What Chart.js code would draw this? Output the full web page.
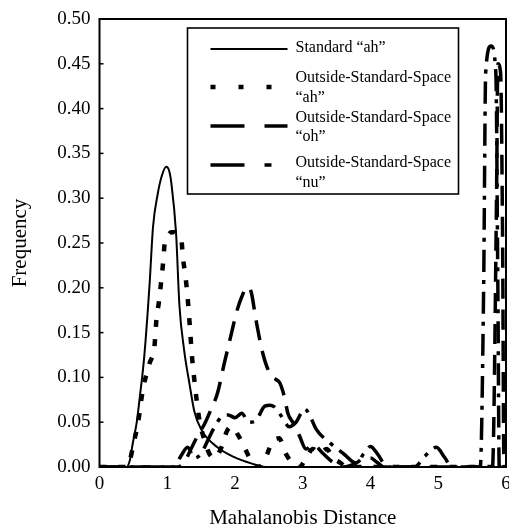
<!DOCTYPE html>
<html>
<head>
<meta charset="utf-8">
<script src="https://cdn.jsdelivr.net/npm/chart.js@4.4.1/dist/chart.umd.min.js"></script>
<style>
  html, body { margin: 0; padding: 0; background: #fff; }
  #wrap { width: 509px; height: 532px; position: relative; }
</style>
</head>
<body>
<div id="wrap"><canvas id="c" width="509" height="532"></canvas></div>
<script>
// ---- data ----
const xTicks = [0, 1, 2, 3, 4, 5, 6];
const yTicks = [0, 0.05, 0.10, 0.15, 0.20, 0.25, 0.30, 0.35, 0.40, 0.45, 0.50];
const seriesNames = ['Standard \u201cah\u201d', 'Outside-Standard-Space \u201cah\u201d', 'Outside-Standard-Space \u201coh\u201d', 'Outside-Standard-Space \u201cnu\u201d'];
const legendLines = [['Standard \u201cah\u201d'], ['Outside-Standard-Space', '\u201cah\u201d'], ['Outside-Standard-Space', '\u201coh\u201d'], ['Outside-Standard-Space', '\u201cnu\u201d']];

const stdAhX = [0, 0.40, 0.45, 0.49, 0.55, 0.59, 0.66, 0.74, 0.79, 0.86, 0.92, 0.985, 1.03, 1.06, 1.13, 1.18, 1.25, 1.33, 1.40, 1.50, 1.74, 1.99, 2.24, 2.45, 6];
const stdAhY = [0, 0, 0.008, 0.026, 0.050, 0.075, 0.123, 0.205, 0.268, 0.305, 0.325, 0.335, 0.330, 0.317, 0.261, 0.180, 0.130, 0.092, 0.062, 0.042, 0.022, 0.011, 0.004, 0, 0];

const outAhX = [0, 0.40, 0.45, 0.50, 0.57, 0.64, 0.74, 0.81, 0.84, 0.88, 0.91, 0.94, 0.96, 1.01, 1.06, 1.11, 1.16, 1.21, 1.23, 1.27, 1.30, 1.34, 1.37, 1.40, 1.43, 1.48, 1.55, 1.62, 1.70, 1.80, 1.88, 1.95, 2.05, 2.14, 2.25, 2.35, 2.45, 2.55, 2.65, 2.75, 2.85, 2.95, 3.05, 3.15, 3.25, 3.35, 3.45, 3.55, 3.65, 6];
const outAhY = [0, 0, 0.008, 0.025, 0.050, 0.086, 0.116, 0.134, 0.164, 0.186, 0.207, 0.229, 0.248, 0.258, 0.262, 0.262, 0.258, 0.253, 0.235, 0.212, 0.190, 0.150, 0.119, 0.097, 0.077, 0.050, 0.030, 0.015, 0.010, 0.022, 0.040, 0.045, 0.035, 0.022, 0.005, 0, 0.010, 0.028, 0.032, 0.015, 0.004, 0, 0.010, 0.020, 0.015, 0.020, 0.010, 0.005, 0, 0];

const outOhX = [0, 1.15, 1.25, 1.35, 1.45, 1.55, 1.65, 1.74, 1.84, 1.95, 2.02, 2.10, 2.18, 2.24, 2.31, 2.41, 2.51, 2.60, 2.66, 2.73, 2.78, 2.86, 2.95, 3.05, 3.15, 3.30, 3.45, 3.60, 3.80, 3.90, 4.00, 4.10, 4.20, 5.80, 5.86, 5.88, 5.92, 5.95, 5.97, 6];
const outOhY = [0, 0, 0.005, 0.020, 0.035, 0.048, 0.065, 0.082, 0.115, 0.150, 0.172, 0.190, 0.201, 0.195, 0.164, 0.127, 0.105, 0.098, 0.094, 0.078, 0.060, 0.049, 0.035, 0.020, 0.025, 0.015, 0.005, 0, 0.005, 0.010, 0.010, 0.005, 0, 0, 0.30, 0.45, 0.44, 0.25, 0, 0];

const outNuX = [0, 1.10, 1.20, 1.30, 1.40, 1.50, 1.60, 1.70, 1.80, 1.90, 2.00, 2.10, 2.20, 2.31, 2.44, 2.52, 2.60, 2.70, 2.80, 2.90, 3.03, 3.10, 3.20, 3.40, 3.60, 3.80, 3.90, 4.00, 4.10, 4.25, 4.65, 4.80, 4.97, 5.10, 5.20, 5.62, 5.67, 5.70, 5.78, 5.85, 5.88, 5.90, 6];
const outNuY = [0, 0, 0.012, 0.022, 0.010, 0.015, 0.030, 0.045, 0.056, 0.058, 0.055, 0.060, 0.050, 0.052, 0.068, 0.069, 0.066, 0.055, 0.045, 0.050, 0.065, 0.058, 0.042, 0.027, 0.015, 0.004, 0.015, 0.023, 0.015, 0, 0, 0.012, 0.022, 0.010, 0, 0, 0.20, 0.44, 0.47, 0.44, 0.20, 0, 0];

const toPts = (xs, ys) => xs.map((x, i) => ({ x: x, y: ys[i] }));

const serif = "'Liberation Serif', 'DejaVu Serif', serif";

const styles = [
  { width: 2, dash: [], legendWidth: 2, legendDash: [] },
  { width: 4.5, dash: [7, 12], legendWidth: 4.5, legendDash: [5, 23] },
  { width: 3.5, dash: [20, 11], legendWidth: 3.5, legendDash: [34, 20] },
  { width: 3.5, dash: [22, 8, 4, 8], legendWidth: 3.5, legendDash: [34, 20, 7, 20] }
];

const datasets = [
  toPts(stdAhX, stdAhY), toPts(outAhX, outAhY), toPts(outOhX, outOhY), toPts(outNuX, outNuY)
].map((pts, i) => ({
  label: seriesNames[i],
  data: pts,
  borderColor: '#000',
  backgroundColor: '#000',
  borderWidth: styles[i].width,
  borderDash: styles[i].dash,
  pointRadius: 0,
  tension: 0.35,
  cubicInterpolationMode: 'monotone',
  fill: false
}));

const framePlugin = {
  id: 'frameLegend',
  afterDraw(chart) {
    const { ctx, chartArea: a } = chart;
    ctx.save();
    ctx.strokeStyle = '#000';
    ctx.setLineDash([]);
    ctx.lineWidth = 2;
    ctx.strokeRect(a.left, a.top, a.right - a.left, a.bottom - a.top);
    // small inward ticks on the y axis
    const ys = chart.scales.y;
    ctx.lineWidth = 1.5;
    ys.ticks.forEach(t => {
      const py = ys.getPixelForValue(t.value);
      ctx.beginPath(); ctx.moveTo(a.left, py); ctx.lineTo(a.left + 4, py); ctx.stroke();
    });
    // legend box
    const bx = a.left + 88, by = a.top + 9, bw = 271, bh = 166;
    ctx.fillStyle = '#fff';
    ctx.fillRect(bx, by, bw, bh);
    ctx.lineWidth = 1.6;
    ctx.strokeRect(bx, by, bw, bh);
    const sampleY = [30, 68, 107, 146];
    const textY = [[29], [59, 79], [99, 118], [144, 164]];
    ctx.font = '16px ' + serif;
    ctx.textBaseline = 'middle';
    ctx.textAlign = 'left';
    ctx.fillStyle = '#000';
    legendLines.forEach((lines, i) => {
      ctx.lineWidth = styles[i].legendWidth;
      ctx.setLineDash(styles[i].legendDash);
      ctx.beginPath();
      ctx.moveTo(a.left + 111, a.top + sampleY[i]);
      ctx.lineTo(a.left + 188, a.top + sampleY[i]);
      ctx.stroke();
      ctx.setLineDash([]);
      lines.forEach((s, j) => ctx.fillText(s, a.left + 196, a.top + textY[i][j]));
    });
    ctx.restore();
  }
};

new Chart(document.getElementById('c'), {
  type: 'line',
  data: { datasets },
  plugins: [framePlugin],
  options: {
    responsive: false,
    animation: false,
    layout: { padding: { top: 19, right: 3, left: 0, bottom: 0 } },
    plugins: { legend: { display: false }, tooltip: { enabled: false } },
    scales: {
      x: {
        type: 'linear', min: 0, max: 6,
        afterBuildTicks: s => { s.ticks = xTicks.map(v => ({ value: v })); },
        afterFit: s => { s.height = 65; s.paddingRight = 0; s.paddingLeft = 0; },
        grid: { display: false, drawTicks: false },
        border: { display: false },
        ticks: { color: '#000', font: { family: serif, size: 19 }, padding: 6, maxRotation: 0 },
        title: { display: true, text: 'Mahalanobis Distance', color: '#000', font: { family: serif, size: 21 }, padding: { top: 0, bottom: 1 } }
      },
      y: {
        type: 'linear', min: 0, max: 0.5,
        afterBuildTicks: s => { s.ticks = yTicks.map(v => ({ value: v })); },
        afterFit: s => { s.width = 99.5; s.paddingTop = 0; s.paddingBottom = 0; },
        grid: { display: false, drawTicks: false },
        border: { display: false },
        ticks: { color: '#000', font: { family: serif, size: 19 }, padding: 9, callback: v => Number(v).toFixed(2) },
        title: { display: true, text: 'Frequency', color: '#000', font: { family: serif, size: 21 }, padding: { top: 8, bottom: 0 } }
      }
    }
  }
});
</script>
</body>
</html>
